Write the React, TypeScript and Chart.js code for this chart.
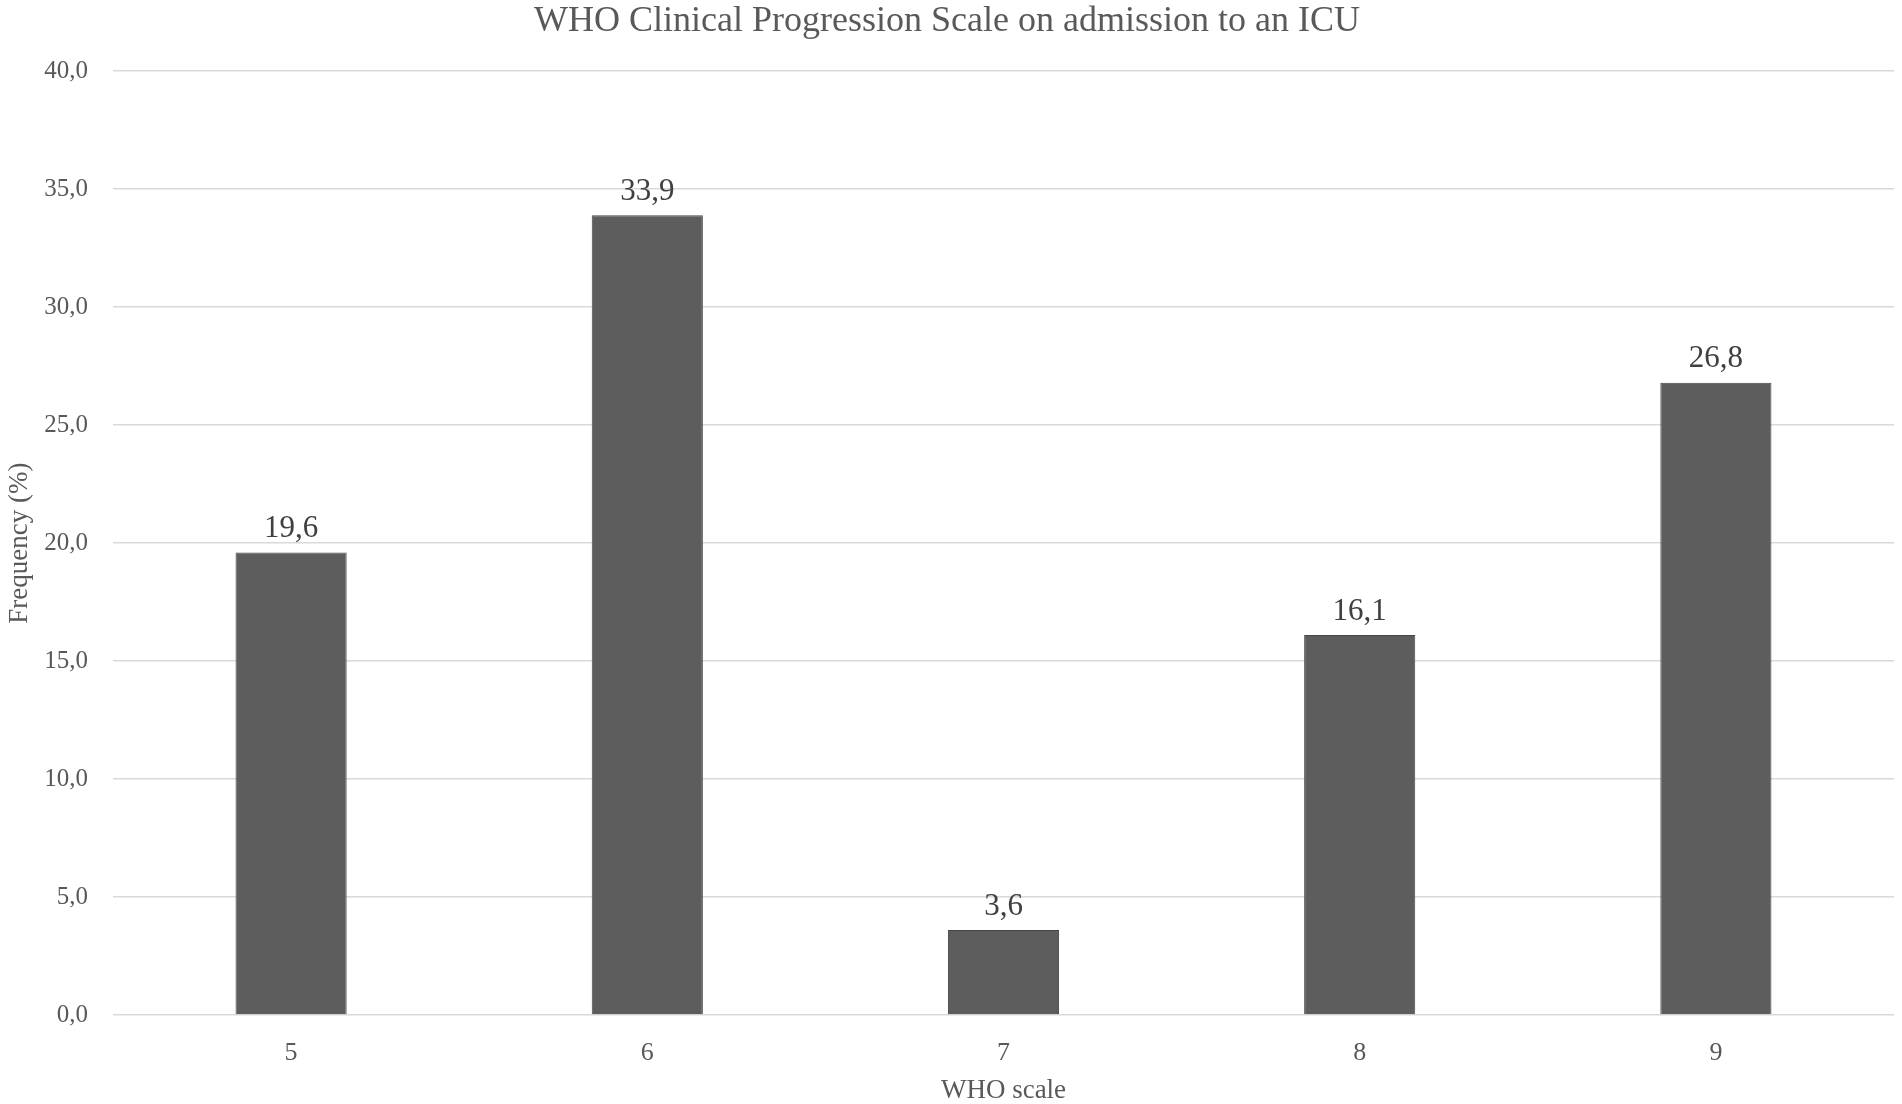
import { useEffect, useRef } from 'react';
import { Chart, registerables } from 'chart.js';

Chart.register(...registerables);

const categories = ['5', '6', '7', '8', '9'];
const frequency = [19.6, 33.9, 3.6, 16.1, 26.8];
const yTicks = [0, 5, 10, 15, 20, 25, 30, 35, 40];

const FONT = "'Liberation Serif', 'Times New Roman', serif";
const comma = (v: number) => v.toFixed(1).replace('.', ',');

const barLabels = {
  id: 'barLabels',
  afterDatasetsDraw(chart: any) {
    const ctx = chart.ctx;
    const meta = chart.getDatasetMeta(0);
    ctx.save();
    ctx.font = `31px ${FONT}`;
    ctx.fillStyle = '#404040';
    ctx.textAlign = 'center';
    ctx.textBaseline = 'bottom';
    meta.data.forEach((bar: any, i: number) => {
      ctx.fillText(comma(frequency[i]), bar.x, bar.y - 8);
    });
    ctx.restore();
  },
};

export default function App() {
  const chartRef = useRef<HTMLCanvasElement>(null);

  useEffect(() => {
    document.body.style.margin = '0';
    if (!chartRef.current) return;
    const ctx = chartRef.current.getContext('2d');
    if (!ctx) return;

    const chart = new Chart(ctx, {
      type: 'bar',
      data: {
        labels: categories,
        datasets: [{
          data: frequency,
          backgroundColor: '#5d5d5d',
          borderColor: '#474747',
          borderWidth: 1,
          barPercentage: 0.312,
          categoryPercentage: 1,
        }],
      },
      options: {
        responsive: false,
        animation: false,
        layout: { padding: { left: 0, right: 8, top: 0, bottom: 0 } },
        plugins: {
          legend: { display: false },
          tooltip: { enabled: false },
          title: {
            display: true,
            text: 'WHO Clinical Progression Scale on admission to an ICU',
            color: '#595959',
            font: { family: FONT, size: 36, weight: 'normal', lineHeight: 1.2 },
            padding: { top: 0, bottom: 28 },
          },
        },
        scales: {
          x: {
            grid: { display: false },
            border: { display: false },
            ticks: {
              color: '#595959',
              font: { family: FONT, size: 26 },
              padding: 15,
            },
            title: {
              display: true,
              text: 'WHO scale',
              color: '#595959',
              font: { family: FONT, size: 27, lineHeight: 1 },
              padding: { top: 0, bottom: 0 },
            },
            afterFit: (scale: any) => { scale.height = 89; },
          },
          y: {
            min: 0,
            max: 40,
            afterBuildTicks: (scale: any) => {
              scale.ticks = yTicks.map((v) => ({ value: v }));
            },
            grid: { color: '#d9d9d9', lineWidth: 1.5, drawTicks: false },
            border: { display: false },
            ticks: {
              color: '#595959',
              font: { family: FONT, size: 25 },
              padding: 25,
              callback: (v: any) => comma(Number(v)),
            },
            title: {
              display: true,
              text: 'Frequency (%)',
              color: '#595959',
              font: { family: FONT, size: 27 },
              padding: { top: 4, bottom: 0 },
            },
            afterFit: (scale: any) => { scale.width = 113; },
          },
        },
      },
      plugins: [barLabels],
    });

    return () => chart.destroy();
  }, []);

  return (
    <div style={{ width: 1902, height: 1104, background: '#fff' }}>
      <canvas ref={chartRef} width={1902} height={1104} style={{ display: 'block' }} />
    </div>
  );
}
